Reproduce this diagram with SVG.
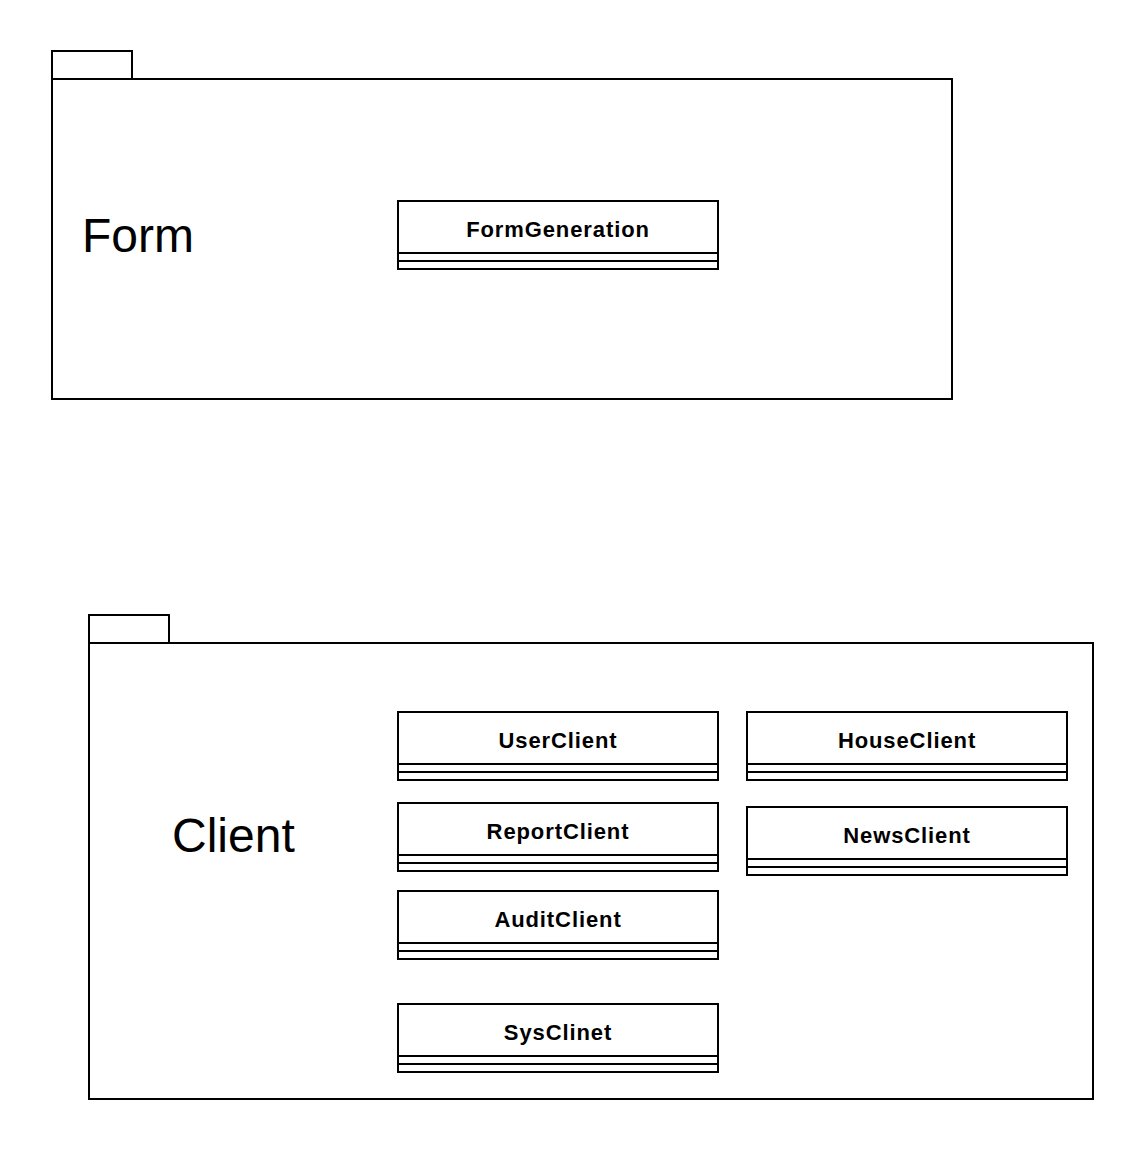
<svg xmlns="http://www.w3.org/2000/svg" width="1144" height="1150" viewBox="0 0 1144 1150">
<style>
.ln{fill:#fff;stroke:#000;stroke-width:2}
.sep{fill:none;stroke:#000;stroke-width:2}
.pkg{font-family:"Liberation Sans",Arial,sans-serif;font-size:48px;fill:#000}
.cls{font-family:"Liberation Sans",Arial,sans-serif;font-size:22px;font-weight:bold;fill:#000;text-anchor:middle;letter-spacing:0.9px}
</style>
<rect width="1144" height="1150" fill="#fff"/>
<g id="pkg-form">
<rect class="ln" x="52" y="51" width="80" height="28"/>
<rect class="ln" x="52" y="79" width="900" height="320"/>
<text class="pkg" x="82" y="252">Form</text>
</g>
<g id="pkg-client">
<rect class="ln" x="89" y="615" width="80" height="28"/>
<rect class="ln" x="89" y="643" width="1004" height="456"/>
<text class="pkg" x="172" y="852">Client</text>
</g>
<g id="FormGeneration">
<rect class="ln" x="398" y="201" width="320" height="68"/>
<path class="sep" d="M398 253H718M398 261H718"/>
<text class="cls" x="558" y="237">FormGeneration</text>
</g>
<g id="UserClient">
<rect class="ln" x="398" y="712" width="320" height="68"/>
<path class="sep" d="M398 764H718M398 772H718"/>
<text class="cls" x="558" y="748">UserClient</text>
</g>
<g id="ReportClient">
<rect class="ln" x="398" y="803" width="320" height="68"/>
<path class="sep" d="M398 855H718M398 863H718"/>
<text class="cls" x="558" y="839">ReportClient</text>
</g>
<g id="AuditClient">
<rect class="ln" x="398" y="891" width="320" height="68"/>
<path class="sep" d="M398 943H718M398 951H718"/>
<text class="cls" x="558" y="927">AuditClient</text>
</g>
<g id="SysClinet">
<rect class="ln" x="398" y="1004" width="320" height="68"/>
<path class="sep" d="M398 1056H718M398 1064H718"/>
<text class="cls" x="558" y="1040">SysClinet</text>
</g>
<g id="HouseClient">
<rect class="ln" x="747" y="712" width="320" height="68"/>
<path class="sep" d="M747 764H1067M747 772H1067"/>
<text class="cls" x="907" y="748">HouseClient</text>
</g>
<g id="NewsClient">
<rect class="ln" x="747" y="807" width="320" height="68"/>
<path class="sep" d="M747 859H1067M747 867H1067"/>
<text class="cls" x="907" y="843">NewsClient</text>
</g>
<g id="connectors"></g>
</svg>
